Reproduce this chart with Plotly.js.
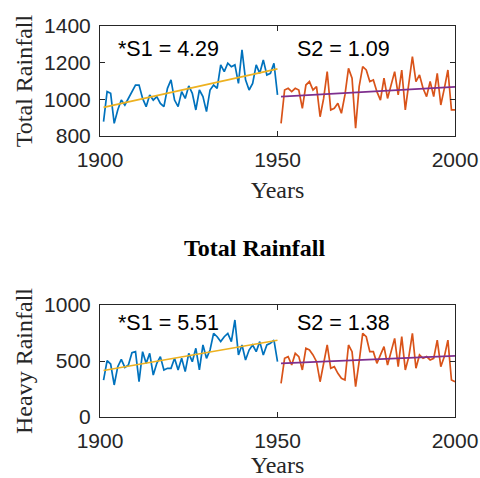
<!DOCTYPE html>
<html><head><meta charset="utf-8">
<script src="https://cdn.plot.ly/plotly-3.0.1.min.js"></script>
<style>html,body{margin:0;padding:0;background:#fff}#chart{width:480px;height:478px}</style>
</head><body><div id="chart"></div>
<script>
const years1 = []; for (let y = 1901; y <= 1950; y++) years1.push(y);
const years2 = []; for (let y = 1951; y <= 2000; y++) years2.push(y);

const totalS1 = [878,1042,1033,869,942,996,969,1005,1042,1078,1078,1005,960,1024,996,1015,978,960,1060,1106,
  996,960,1042,1005,1073,1033,942,1051,1015,933,1051,1078,1060,1188,1151,1197,1178,1188,1087,1270,
  1106,1051,1087,1188,1142,1215,1133,1142,1197,1024];
const totalS2 = [869,1051,1060,1042,1060,1051,951,1078,1097,1051,1069,905,1005,1151,942,951,978,924,1024,1169,
  1115,842,1069,1178,1160,1097,1106,1042,996,1115,1005,1078,1151,1024,1160,942,1097,1233,1097,1133,
  1060,1015,1097,1015,1142,969,1060,1160,942,942];
const heavyS1 = [330,503,473,286,449,515,443,464,574,583,315,583,479,568,375,479,539,420,435,435,
  524,420,524,405,568,494,613,420,643,524,598,747,717,673,717,747,673,866,554,643,
  509,598,643,583,673,554,643,658,687,494];
const heavyS2 = [301,524,539,464,568,539,420,613,598,554,494,315,479,643,435,449,390,345,330,643,
  583,271,494,747,717,583,583,479,554,628,464,583,702,449,717,420,539,747,435,554,
  524,539,509,524,687,449,539,687,330,315];

const trendYears1 = [1901, 1950];
const trendYears2 = [1951, 2000];
const totalTrend1 = [956, 1166];
const totalTrend2 = [1015, 1068];
const heavyTrend1 = [415, 685];
const heavyTrend2 = [478, 546];

const xTicks = [1900, 1950, 2000];
const totalTicks = [800, 1000, 1200, 1400];
const heavyTicks = [0, 500, 1000];
const labels = {top: ['*S1 = 4.29', 'S2 = 1.09'], bottom: ['*S1 = 5.51', 'S2 = 1.38']};

const BLUE = '#0072BD', ORANGE = '#D95319', YELLOW = '#EDB120', PURPLE = '#7E2F8E';
const line = (x, y, c, w, xa, ya) => ({x, y, type: 'scatter', mode: 'lines', line: {color: c, width: w}, xaxis: xa, yaxis: ya, showlegend: false, hoverinfo: 'skip'});

const data = [
  line(years1, totalS1, BLUE, 1.7, 'x', 'y'),
  line(years2, totalS2, ORANGE, 1.7, 'x', 'y'),
  line(trendYears1, totalTrend1, YELLOW, 1.7, 'x', 'y'),
  line(trendYears2, totalTrend2, PURPLE, 1.7, 'x', 'y'),
  line(years1, heavyS1, BLUE, 1.7, 'x2', 'y2'),
  line(years2, heavyS2, ORANGE, 1.7, 'x2', 'y2'),
  line(trendYears1, heavyTrend1, YELLOW, 1.7, 'x2', 'y2'),
  line(trendYears2, heavyTrend2, PURPLE, 1.7, 'x2', 'y2')
];

const tickFont = {family: 'Arial, "Liberation Sans", sans-serif', size: 21, color: '#262626'};
const titleFont = {family: '"Times New Roman", "Liberation Serif", serif', size: 24, color: '#262626'};
const annFont = {family: 'Arial, "Liberation Sans", sans-serif', size: 21.5, color: '#000'};
const axBase = {showgrid: false, zeroline: false, showline: true, linecolor: '#262626', linewidth: 1,
  mirror: 'ticks', ticks: 'inside', ticklen: 5, tickcolor: '#262626', tickfont: tickFont, automargin: false, fixedrange: true};

const xd = [100/480, 455/480];
const ann = (text, x, y, font) => ({text, xref: 'paper', yref: 'paper', x: x/480, y: 1-y/478, xanchor: 'center', yanchor: 'middle', showarrow: false, font});
const layout = {
  width: 480, height: 478, margin: {l: 0, r: 0, t: 0, b: 0},
  paper_bgcolor: '#fff', plot_bgcolor: '#fff', showlegend: false,
  xaxis: Object.assign({}, axBase, {domain: xd, range: [1900, 2000], tickvals: xTicks, anchor: 'y', ticklabelstandoff: 5,
    title: {text: 'Years', font: titleFont, standoff: 10}}),
  yaxis: Object.assign({}, axBase, {domain: [1-136/478, 1-26/478], range: [800, 1400], tickvals: totalTicks, anchor: 'x', ticklabelstandoff: 4,
    title: {text: 'Total Rainfall', font: titleFont, standoff: 4}}),
  xaxis2: Object.assign({}, axBase, {domain: xd, range: [1900, 2000], tickvals: xTicks, anchor: 'y2', ticklabelstandoff: 5,
    title: {text: 'Years', font: titleFont, standoff: 10}}),
  yaxis2: Object.assign({}, axBase, {domain: [1-417/478, 1-305/478], range: [0, 1000], tickvals: heavyTicks, anchor: 'x2', ticklabelstandoff: 4,
    title: {text: 'Heavy Rainfall', font: titleFont, standoff: 4}}),
  annotations: [
    ann(labels.top[0], 168.5, 49, annFont),
    ann(labels.top[1], 343, 49, annFont),
    ann(labels.bottom[0], 168.5, 323, annFont),
    ann(labels.bottom[1], 343, 323, annFont),
    ann('<b>Total Rainfall</b>', 254, 248, {family: '"Times New Roman", "Liberation Serif", serif', size: 24, color: '#000'})
  ]
};

Plotly.newPlot('chart', data, layout, {staticPlot: true, displayModeBar: false});
</script></body></html>
